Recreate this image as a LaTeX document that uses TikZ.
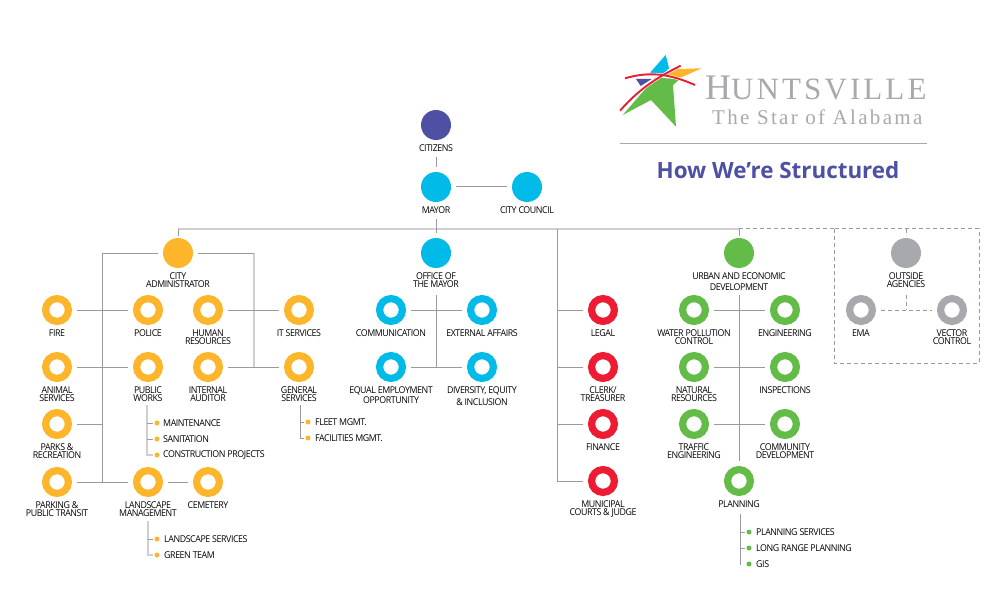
\documentclass[tikz,border=0pt]{standalone}
\usepackage{fontspec}
\setmainfont{Open Sans}[LetterSpace=-4.5, FakeStretch=0.94]
\newfontfamily\logofont{Liberation Serif}[LetterSpace=10]
\newfontfamily\tagfont{Liberation Serif}[LetterSpace=11]
\newfontfamily\titlefont{Open Sans}
\usetikzlibrary{calc}

\definecolor{hsvorange}{HTML}{FDB62B}
\definecolor{hsvcyan}{HTML}{00BBE7}
\definecolor{hsvred}{HTML}{EE1C33}
\definecolor{hsvgreen}{HTML}{62BC47}
\definecolor{hsvgrey}{HTML}{A7A9AC}
\definecolor{hsvpurple}{HTML}{4E50A3}
\definecolor{hsvline}{HTML}{9A9A9A}
\definecolor{hsvsoft}{HTML}{CFCFCF}

\tikzset{
	disc/.style={circle, fill=#1, minimum size=30pt, inner sep=0pt, outer sep=5pt, label distance=-1pt},
	ring/.style={circle, draw=#1, fill=white, line width=7.2pt, minimum size=22.8pt, inner sep=0pt, outer sep=8.6pt, label distance=-2pt},
	lbl/.style={font=\fontsize{9.4}{8}\selectfont, align=center, inner sep=0pt, outer sep=0pt, text=black},
	item/.style={font=\fontsize{9.4}{8}\selectfont, anchor=west, inner sep=0pt},
	bullet/.style={circle, fill=#1, minimum size=5pt, inner sep=0pt, outer sep=2pt},
	conn/.style={draw=hsvline, line width=1pt},
	softconn/.style={draw=hsvsoft, line width=1.7pt},
	dashconn/.style={conn, dashed, dash pattern=on 4pt off 3pt}
}

\begin{document}
\begin{tikzpicture}[x=1pt, y=-1pt]
	\useasboundingbox (0, 0) rectangle (1008, 612);

	% top of the chart
	\node[disc=hsvpurple, label distance=0.5pt, label={[lbl]below:CITIZENS}] (citizens) at (436, 125) {};
	\node[disc=hsvcyan, label distance=0.5pt, label={[lbl]below:MAYOR}] (mayor) at (436, 187) {};
	\node[disc=hsvcyan, label distance=0.5pt, label={[lbl]below:CITY COUNCIL}] (council) at (527, 187) {};

	\node[disc=hsvorange, label={[lbl]below:CITY\\ADMINISTRATOR}] (admin) at (178, 253) {};
	\node[disc=hsvcyan, label={[lbl]below:OFFICE OF\\THE MAYOR}] (office) at (436, 253) {};
	\node[disc=hsvgreen, label distance=1pt, label={[lbl]below:URBAN AND ECONOMIC\\[3pt]DEVELOPMENT}] (urban) at (739, 253) {};
	\node[disc=hsvgrey, label={[lbl]below:OUTSIDE\\AGENCIES}] (outside) at (906, 253) {};

	% city administrator
	\node[ring=hsvorange, label={[lbl]below:FIRE}] (fire) at (57, 310) {};
	\node[ring=hsvorange, label={[lbl]below:POLICE}] (police) at (148, 310) {};
	\node[ring=hsvorange, label={[lbl]below:HUMAN\\RESOURCES}] (hr) at (208, 310) {};
	\node[ring=hsvorange, label={[lbl]below:IT SERVICES}] (it) at (299, 310) {};
	\node[ring=hsvorange, label={[lbl]below:ANIMAL\\SERVICES}] (animal) at (57, 367) {};
	\node[ring=hsvorange, label={[lbl]below:PUBLIC\\WORKS}] (works) at (148, 367) {};
	\node[ring=hsvorange, label={[lbl]below:INTERNAL\\AUDITOR}] (auditor) at (208, 367) {};
	\node[ring=hsvorange, label={[lbl]below:GENERAL\\SERVICES}] (general) at (299, 367) {};
	\node[ring=hsvorange, label={[lbl]below:PARKS \&\\RECREATION}] (parks) at (57, 424) {};
	\node[ring=hsvorange, label={[lbl]below:PARKING \&\\PUBLIC TRANSIT}] (parking) at (57, 482) {};
	\node[ring=hsvorange, label={[lbl]below:LANDSCAPE\\MANAGEMENT}] (landscape) at (148, 482) {};
	\node[ring=hsvorange, label={[lbl]below:CEMETERY}] (cemetery) at (208, 482) {};

	% office of the mayor
	\node[ring=hsvcyan, label={[lbl]below:COMMUNICATION}] (comm) at (391, 310) {};
	\node[ring=hsvcyan, label={[lbl]below:EXTERNAL AFFAIRS}] (external) at (482, 310) {};
	\node[ring=hsvcyan, label={[lbl]below:EQUAL EMPLOYMENT\\OPPORTUNITY}] (equal) at (391, 367) {};
	\node[ring=hsvcyan, label={[lbl]below:DIVERSITY, EQUITY\\[2pt]\& INCLUSION}] (diversity) at (482, 367) {};

	% column under the mayor
	\node[ring=hsvred, label={[lbl]below:LEGAL}] (legal) at (603, 310) {};
	\node[ring=hsvred, label={[lbl]below:CLERK/\\TREASURER}] (clerk) at (603, 367) {};
	\node[ring=hsvred, label={[lbl]below:FINANCE}] (finance) at (603, 424) {};
	\node[ring=hsvred, label={[lbl]below:MUNICIPAL\\COURTS \& JUDGE}] (courts) at (603, 481) {};

	% urban and economic development
	\node[ring=hsvgreen, label={[lbl]below:WATER POLLUTION\\CONTROL}] (water) at (694, 310) {};
	\node[ring=hsvgreen, label={[lbl]below:ENGINEERING}] (engineering) at (785, 310) {};
	\node[ring=hsvgreen, label={[lbl]below:NATURAL\\RESOURCES}] (natural) at (694, 367) {};
	\node[ring=hsvgreen, label={[lbl]below:INSPECTIONS}] (inspections) at (785, 367) {};
	\node[ring=hsvgreen, label={[lbl]below:TRAFFIC\\ENGINEERING}] (traffic) at (694, 424) {};
	\node[ring=hsvgreen, label={[lbl]below:COMMUNITY\\DEVELOPMENT}] (community) at (785, 424) {};
	\node[ring=hsvgreen, label={[lbl]below:PLANNING}] (planning) at (739, 481) {};

	% outside agencies
	\node[ring=hsvgrey, label={[lbl]below:EMA}] (ema) at (861, 310) {};
	\node[ring=hsvgrey, label={[lbl]below:VECTOR\\CONTROL}] (vector) at (952, 310) {};

	% small lists
	\node[bullet=hsvorange] (maintdot) at (157, 423) {};
	\node[bullet=hsvorange] (sanitdot) at (157, 439) {};
	\node[bullet=hsvorange] (constdot) at (157, 455) {};
	\node[item] (maint) at (163, 423) {MAINTENANCE};
	\node[item] (sanit) at (163, 439) {SANITATION};
	\node[item] (const) at (163, 455) {CONSTRUCTION PROJECTS};
	\node[bullet=hsvorange] (fleetdot) at (308, 422) {};
	\node[bullet=hsvorange] (facildot) at (308, 438) {};
	\node[item] (fleet) at (315, 422) {FLEET MGMT.};
	\node[item] (facil) at (315, 438) {FACILITIES MGMT.};
	\node[bullet=hsvorange] (lservdot) at (157, 539) {};
	\node[bullet=hsvorange] (greendot) at (157, 555) {};
	\node[item] (lserv) at (164, 539) {LANDSCAPE SERVICES};
	\node[item] (green) at (164, 555) {GREEN TEAM};
	\node[bullet=hsvgreen] (pservdot) at (749, 532) {};
	\node[bullet=hsvgreen] (rangedot) at (749, 548) {};
	\node[bullet=hsvgreen] (gisdot) at (749, 564) {};
	\node[item] (pserv) at (756, 532) {PLANNING SERVICES};
	\node[item] (range) at (756, 548) {LONG RANGE PLANNING};
	\node[item] (gis) at (756, 564) {GIS};

	% free ends of the trunks
	\coordinate (barl) at (178, 229);
	\coordinate (barm) at (436, 229);
	\coordinate (barc) at (557, 229);
	\coordinate (barr) at (739, 229);
	\coordinate (boxtl) at (834, 229);
	\coordinate (boxbr) at (979, 363);
	\coordinate (adminl) at (102, 482);
	\coordinate (adminr) at (254, 367);
	\coordinate (adminrtop) at (254, 253);
	\coordinate (courtl) at (557, 481);
	\coordinate (citizensbot) at (436, 157);
	\coordinate (mayortop) at (436, 167);
	\coordinate (officetop) at (436, 295);
	\coordinate (officebot) at (436, 367);
	\coordinate (urbantop) at (739, 295);
	\coordinate (urbanbot) at (739, 461);
	\coordinate (outsidetop) at (906, 295);
	\coordinate (outsidebot) at (906, 310);
	\coordinate (mayorbot) at (436, 219);
	\coordinate (officeup) at (436, 233);
	\coordinate (adminup) at (178, 236);
	\coordinate (urbanup) at (739, 236);
	\coordinate (outsideup) at (906, 236);
	\coordinate (outsidebar) at (906, 229);
	\coordinate (worktop) at (147, 405);
	\coordinate (gentop) at (300, 405);
	\coordinate (landtop) at (148, 521);
	\coordinate (plantop) at (740, 514);
	\coordinate (planbot) at (740, 565);

	% connectors
	\path[softconn] (barl) edge (barr);
	\path[softconn] (adminrtop) edge (adminr);
	\path[conn] (citizensbot) edge (mayortop)
		(mayor) edge (council)
		(mayorbot) edge (officeup)
		(barl) edge (adminup)
		(barr) edge (urbanup);
	\path[conn] (admin) -| (adminl) -- (parking);
	\path[conn] (admin) -- (admin -| adminr);
	\path[conn] (fire) edge (police)
		(animal) edge (works)
		(parks) edge (parks -| adminl)
		(adminl) edge (landscape)
		(landscape) edge (cemetery)
		(hr) edge (it)
		(auditor) edge (general);
	\path[conn] (officetop) edge (officebot)
		(comm) edge (external)
		(equal) edge (diversity);
	\path[conn] (barc) -- (courtl) -- (courts);
	\path[conn] (legal) edge (legal -| barc)
		(clerk) edge (clerk -| barc)
		(finance) edge (finance -| barc);
	\path[conn] (urbantop) edge (urbanbot)
		(water) edge (engineering)
		(natural) edge (inspections)
		(traffic) edge (community);

	% lists
	\path[softconn] (worktop) |- (constdot);
	\path[conn] (worktop |- maintdot) edge (maintdot)
		(worktop |- sanitdot) edge (sanitdot);
	\path[conn] (gentop) |- (facildot);
	\path[conn] (gentop |- fleetdot) edge (fleetdot);
	\path[softconn] (landtop) |- (greendot);
	\path[conn] (landtop |- lservdot) edge (lservdot);
	\path[conn] (plantop) edge (planbot)
		(plantop |- pservdot) edge (pservdot)
		(plantop |- rangedot) edge (rangedot);

	% dashed side
	\path[dashconn] (barr) -- (boxtl |- barr);
	\draw[dashconn] (boxtl) rectangle (boxbr);
	\path[dashconn] (outsidebar) edge (outsideup)
		(outsidetop) edge (outsidebot)
		(ema) edge (vector);

	% logo
	\fill[hsvcyan] (665.7, 55) -- (669, 68.3) -- (663, 74) -- (650, 72.7) -- cycle;
	\fill[hsvorange] (701.7, 68.3) -- (678, 69) -- (663, 75.7) -- (681, 77.5) -- cycle;
	\fill[hsvpurple] (636, 79) -- (651.7, 79) -- (640.7, 86) -- cycle;
	\fill[hsvgreen] (676, 126.7) -- (673, 85) -- (680, 79) -- (655, 77.7) -- (622.7, 115) -- (651, 100) -- cycle;
	\draw[white, line width=3pt] (620, 110.7) .. controls (640, 88) and (658, 77) .. (680.7, 65.7);
	\draw[white, line width=3pt] (625, 78.3) .. controls (650, 71) and (670, 74) .. (695, 85);
	\draw[hsvred, line width=1.9pt] (620, 110.7) .. controls (640, 88) and (658, 77) .. (680.7, 65.7);
	\draw[hsvred, line width=1.9pt] (625, 78.3) .. controls (650, 71) and (670, 74) .. (695, 85);

	\node[anchor=base west, inner sep=0pt, text=hsvgrey] (logoname) at (705, 100)
		{\logofont\fontsize{36}{36}\selectfont H\fontsize{31}{31}\selectfont UNTSVILLE};
	\node[anchor=base west, inner sep=0pt, text=hsvgrey] (logotag) at (712, 125)
		{\tagfont\fontsize{21}{21}\selectfont The Star of Alabama};
	\coordinate (rulel) at (620, 144);
	\coordinate (ruler) at (927, 144);
	\path[draw=hsvgrey, line width=1pt] (rulel) -- (ruler);
	\node[text=hsvpurple, inner sep=0pt] (title) at (778, 170)
		{\titlefont\fontsize{22.4}{22.4}\selectfont\bfseries How We’re Structured};
\end{tikzpicture}
\end{document}
